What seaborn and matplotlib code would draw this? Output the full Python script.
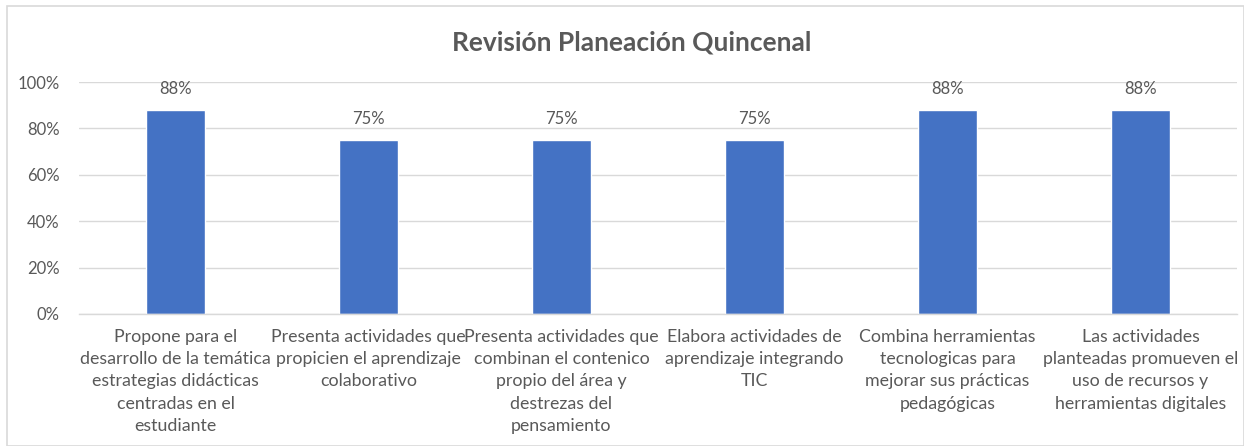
import matplotlib
matplotlib.use("Agg")
import matplotlib.pyplot as plt
from matplotlib.patches import Rectangle
from matplotlib.ticker import PercentFormatter
import seaborn as sns
import pandas as pd

categories = [
    "Propone para el\ndesarrollo de la temática\nestrategias didácticas\ncentradas en el\nestudiante",
    "Presenta actividades que\npropicien el aprendizaje\ncolaborativo",
    "Presenta actividades que\ncombinan el contenico\npropio del área y\ndestrezas del\npensamiento",
    "Elabora actividades de\naprendizaje integrando\nTIC",
    "Combina herramientas\ntecnologicas para\nmejorar sus prácticas\npedagógicas",
    "Las actividades\nplanteadas promueven el\nuso de recursos y\nherramientas digitales",
]
values = [88, 75, 75, 75, 88, 88]
y_ticks = [0, 20, 40, 60, 80, 100]
title = "Revisión Planeación Quincenal"

sns.set_theme(style="white")
plt.rcParams["font.family"] = ["Lato", "DejaVu Sans"]

text_color = "#595959"
bar_color = "#4472C4"
grid_color = "#D9D9D9"

df = pd.DataFrame({"categoria": categories, "valor": values})

fig = plt.figure(figsize=(12.44, 4.46), dpi=100)
fig.patches.append(Rectangle((7 / 1244, 0), 1 - 7 / 1244, 1 - 6 / 446,
                             transform=fig.transFigure, fill=False,
                             edgecolor="#D9D9D9", linewidth=1.2))
ax = fig.add_axes([79 / 1244, 1 - 314 / 446, (1237 - 79) / 1244, (314 - 82) / 446])

sns.barplot(data=df, x="categoria", y="valor", color=bar_color,
            width=0.31, saturation=1, ax=ax)

ax.set_ylim(0, 100)
ax.set_yticks(y_ticks)
ax.yaxis.set_major_formatter(PercentFormatter(decimals=0))
ax.set_xlim(-0.5, len(categories) - 0.5)
ax.yaxis.grid(True, color=grid_color, linewidth=1)
ax.set_axisbelow(True)
for side in ["top", "right", "left"]:
    ax.spines[side].set_visible(False)
ax.spines["bottom"].set_color(grid_color)
ax.spines["bottom"].set_linewidth(1)
ax.tick_params(axis="both", length=0, colors=text_color)
ax.tick_params(axis="y", pad=14, labelsize=12)
ax.tick_params(axis="x", pad=11, labelsize=12.8)
for lab in ax.get_xticklabels():
    lab.set_linespacing(1.47)
ax.set_xlabel("")
ax.set_ylabel("")

for container in ax.containers:
    ax.bar_label(container, labels=[f"{v:.0f}%" for v in values],
                 padding=9, color=text_color, fontsize=12)

fig.text(632 / 1244, 1 - 42 / 446, title, ha="center", va="center",
         fontsize=19, fontweight="bold", color=text_color)

fig.savefig("out.png", dpi=100)
